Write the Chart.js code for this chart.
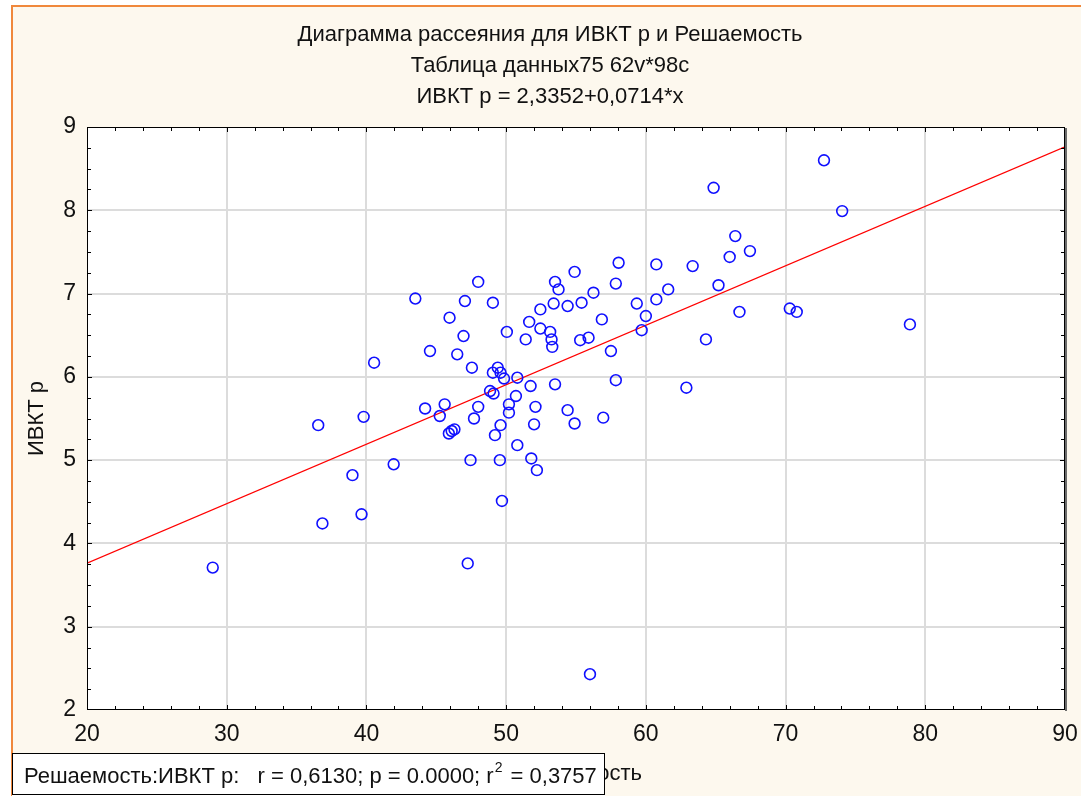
<!DOCTYPE html>
<html><head><meta charset="utf-8">
<script src="https://cdn.jsdelivr.net/npm/chart.js@4.4.0/dist/chart.umd.min.js"></script>
<style>html,body{margin:0;padding:0;background:#fff;overflow:hidden}canvas{display:block}</style>
</head><body>
<canvas id="c" width="1081" height="796"></canvas>
<script>
// ---- data ----
const titleLines = ['Диаграмма рассеяния для ИВКТ р и Решаемость', 'Таблица данных75 62v*98c', 'ИВКТ р = 2,3352+0,0714*x'];
const xAxisTitle = 'Решаемость';
const yAxisTitle = 'ИВКТ р';
const statsMain = 'Решаемость:ИВКТ р:   r = 0,6130; p = 0.0000; r';
const statsSup = '2';
const statsTail = ' = 0,3757';
const xTicks = [20, 30, 40, 50, 60, 70, 80, 90];
const yTicks = [2, 3, 4, 5, 6, 7, 8, 9];
const intercept = 2.3352;
const slope = 0.0714;
const reshaemost = [29.0, 36.55, 36.85, 39.0, 39.65, 39.8, 40.55, 41.95, 43.5, 44.55, 44.2, 45.25, 45.6, 45.95, 45.9, 46.1, 46.3, 46.5, 46.95, 47.05, 47.55, 47.45, 47.25, 48.0, 47.7, 48.0, 48.85, 49.1, 49.05, 49.05, 49.6, 49.2, 49.4, 49.55, 49.6, 49.7, 49.85, 50.05, 50.2, 50.2, 50.7, 50.8, 50.8, 51.4, 51.65, 51.75, 51.8, 52.0, 52.1, 52.2, 52.45, 52.45, 53.15, 53.25, 53.3, 53.4, 53.5, 53.75, 53.5, 54.4, 54.4, 54.9, 54.9, 55.4, 55.3, 55.9, 56.0, 56.25, 56.85, 56.95, 57.5, 57.85, 57.85, 58.05, 59.35, 59.7, 60.0, 60.75, 60.75, 61.6, 62.9, 63.35, 64.3, 64.85, 65.2, 66.0, 66.4, 66.7, 67.45, 70.3, 70.8, 72.75, 74.05, 78.9];
const ivktP = [3.71, 5.42, 4.24, 4.82, 4.35, 5.52, 6.17, 4.95, 6.94, 6.31, 5.62, 5.53, 5.67, 6.71, 5.32, 5.35, 5.37, 6.27, 6.49, 6.91, 6.11, 5.0, 3.76, 7.14, 5.50, 5.64, 5.83, 5.80, 6.89, 6.05, 6.05, 5.30, 6.11, 5.0, 5.42, 4.51, 5.98, 6.54, 5.57, 5.67, 5.77, 5.99, 5.18, 6.45, 6.66, 5.89, 5.02, 5.43, 5.64, 4.88, 6.81, 6.58, 6.54, 6.45, 6.36, 6.88, 7.14, 7.05, 5.91, 6.85, 5.60, 5.44, 7.26, 6.89, 6.44, 6.47, 2.43, 7.01, 6.69, 5.51, 6.31, 7.12, 5.96, 7.37, 6.88, 6.56, 6.73, 6.93, 7.35, 7.05, 5.87, 7.33, 6.45, 8.27, 7.10, 7.44, 7.69, 6.78, 7.51, 6.82, 6.78, 8.60, 7.99, 6.63];

// ---- chart ----
const W = 1081, H = 796;
const FONT = "'Liberation Sans', Arial, sans-serif";
const points = reshaemost.map((x, i) => ({ x: x, y: ivktP[i] }));
const xMin = xTicks[0], xMax = xTicks[xTicks.length - 1];
const yMin = yTicks[0], yMax = yTicks[yTicks.length - 1];
const fitLine = [xMin, xMax].map(x => ({ x: x, y: intercept + slope * x }));

const frame = {
  id: 'frame',
  beforeDraw(chart) {
    const ctx = chart.ctx, a = chart.chartArea;
    ctx.save();
    ctx.fillStyle = '#ffffff'; ctx.fillRect(0, 0, W, H);
    ctx.fillStyle = '#fdf8ee'; ctx.fillRect(12, 6, W - 12, H - 6);
    ctx.fillStyle = '#f0883c'; ctx.fillRect(11, 5, W - 11, 2); ctx.fillRect(11, 5, 2, H - 5);
    ctx.fillStyle = '#ffffff'; ctx.fillRect(a.left, a.top, a.right - a.left, a.bottom - a.top);
    ctx.restore();
  },
  afterDatasetsDraw(chart) {
    const ctx = chart.ctx, a = chart.chartArea;
    const xs = chart.scales.x, ys = chart.scales.y;
    ctx.save();
    ctx.strokeStyle = '#000'; ctx.lineWidth = 1;
    ctx.beginPath();
    for (let i = 1; i < 35; i++) {
      const v = xMin + 2 * i;
      const px = Math.round(xs.getPixelForValue(v)) + 0.5;
      const len = (i % 5 === 0) ? 5 : 4;
      ctx.moveTo(px, a.bottom); ctx.lineTo(px, a.bottom - len);
      ctx.moveTo(px, a.top); ctx.lineTo(px, a.top + len);
    }
    for (let i = 1; i < 28; i++) {
      const v = yMin + 0.25 * i;
      const py = Math.round(ys.getPixelForValue(v)) + 0.5;
      const len = (i % 4 === 0) ? 5 : 4;
      ctx.moveTo(a.left, py); ctx.lineTo(a.left + len, py);
      ctx.moveTo(a.right, py); ctx.lineTo(a.right - len, py);
    }
    ctx.stroke();
    ctx.strokeRect(a.left + 0.5, a.top + 0.5, a.right - a.left - 1, a.bottom - a.top - 1);
    ctx.fillStyle = '#6b6b6b';
    ctx.fillRect(a.right, a.top + 1, 2, a.bottom - a.top);
    ctx.restore();
  },
  afterDraw(chart) {
    const ctx = chart.ctx, a = chart.chartArea;
    ctx.save();
    ctx.fillStyle = '#111';
    ctx.font = '22px ' + FONT;
    ctx.textAlign = 'center'; ctx.textBaseline = 'middle';
    titleLines.forEach((t, i) => ctx.fillText(t, 550, 35 + 31 * i));
    ctx.fillText(xAxisTitle, (a.left + a.right) / 2 + 2, 774);
    ctx.save();
    ctx.translate(37, (a.top + a.bottom) / 2);
    ctx.rotate(-Math.PI / 2);
    ctx.fillText(yAxisTitle, 0, 0);
    ctx.restore();
    // stats box
    ctx.fillStyle = '#ffffff';
    ctx.fillRect(12, 753, 593, 43);
    ctx.strokeStyle = '#000'; ctx.lineWidth = 1;
    ctx.strokeRect(12.5, 753.5, 592, 41);
    ctx.fillStyle = '#111';
    ctx.textAlign = 'left'; ctx.textBaseline = 'alphabetic';
    let x = 24;
    ctx.font = '22px ' + FONT;
    ctx.fillText(statsMain, x, 783); x += ctx.measureText(statsMain).width + 1;
    ctx.font = '14px ' + FONT;
    ctx.fillText(statsSup, x, 772); x += ctx.measureText(statsSup).width + 2;
    ctx.font = '22px ' + FONT;
    ctx.fillText(statsTail, x, 783);
    ctx.restore();
  }
};

const gridColor = (c) => (c.tick && (c.index === 0 || c.index === c.scale.ticks.length - 1)) ? 'rgba(0,0,0,0)' : '#dcdcdc';

new Chart(document.getElementById('c'), {
  type: 'scatter',
  data: {
    datasets: [
      { label: 'fit', data: fitLine, showLine: true, borderColor: '#ff0000', borderWidth: 1.2, pointRadius: 0, fill: false, order: 1 },
      { label: 'points', data: points, pointStyle: 'circle', pointRadius: 5.4, borderColor: '#1010ff', borderWidth: 1.6, backgroundColor: 'rgba(0,0,0,0)', order: 0 }
    ]
  },
  options: {
    responsive: false, animation: false, devicePixelRatio: 1,
    layout: { padding: { top: 127, right: 16, left: 0, bottom: 0 } },
    plugins: { legend: { display: false }, tooltip: { enabled: false }, title: { display: false } },
    scales: {
      x: {
        type: 'linear', min: xMin, max: xMax,
        afterBuildTicks: s => { s.ticks = xTicks.map(v => ({ value: v })); },
        afterFit: s => { s.height = 86; s.paddingLeft = 0; s.paddingRight = 0; },
        ticks: { font: { family: FONT, size: 23 }, color: '#111', padding: 11 },
        grid: { color: gridColor, lineWidth: 2, drawTicks: false },
        border: { display: false }
      },
      y: {
        type: 'linear', min: yMin, max: yMax,
        afterBuildTicks: s => { s.ticks = yTicks.map(v => ({ value: v })); },
        afterFit: s => { s.width = 87; s.paddingTop = 0; s.paddingBottom = 0; },
        ticks: { font: { family: FONT, size: 23 }, color: '#111', padding: 11 },
        grid: { color: gridColor, lineWidth: 2, drawTicks: false },
        border: { display: false }
      }
    }
  },
  plugins: [frame]
});
</script>
</body></html>
